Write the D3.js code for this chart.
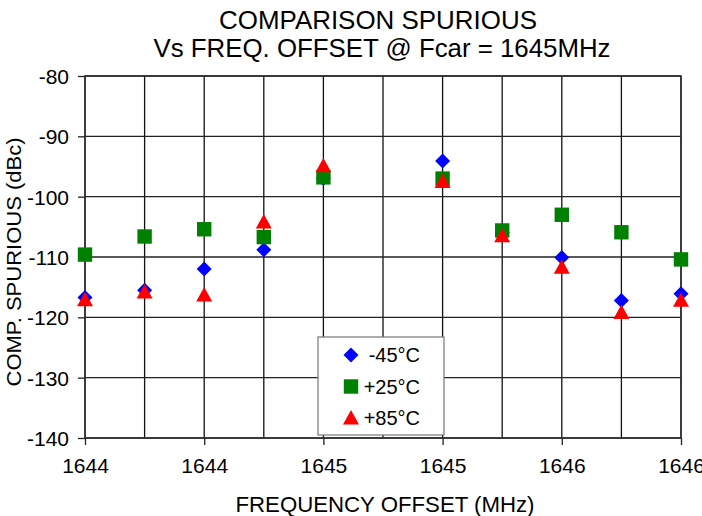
<!DOCTYPE html>
<html>
<head>
<meta charset="utf-8">
<script src="https://cdn.jsdelivr.net/npm/d3@7"></script>
<style>
  body { margin: 0; background: #fff; }
  text { font-family: "Liberation Sans", Arial, sans-serif; fill: #000; }
</style>
</head>
<body>
<div id="chart"></div>
<script>
// frequency points (MHz), the carrier itself is not measured
var freqs = [1644.0, 1644.2, 1644.4, 1644.6, 1644.8, 1645.2, 1645.4, 1645.6, 1645.8, 1646.0];
var minus45 = [-116.7, -115.5, -112.0, -108.8, -97.0, -94.1, -106.0, -110.1, -117.2, -116.1];
var plus25 = [-109.6, -106.6, -105.4, -106.7, -96.8, -97.0, -105.6, -103.0, -105.9, -110.4];
var plus85 = [-117.1, -115.8, -116.3, -104.2, -94.9, -97.5, -106.5, -111.7, -119.2, -117.2];
var xTicks = [1644.0, 1644.4, 1644.8, 1645.2, 1645.6, 1646.0];
var xGrid = [1644.0, 1644.2, 1644.4, 1644.6, 1644.8, 1645.0, 1645.2, 1645.4, 1645.6, 1645.8, 1646.0];
var yTicks = [-140, -130, -120, -110, -100, -90, -80];
var seriesNames = ['-45°C', '+25°C', '+85°C'];

var W = 702, H = 516;
var pL = 85, pR = 681, pT = 76, pB = 438;

var svg = d3.select('#chart').append('svg')
    .attr('width', W).attr('height', H);

var x = d3.scaleLinear().domain([1644, 1646]).range([pL, pR]);
var y = d3.scaleLinear().domain([-140, -80]).range([pB, pT]);

// title
svg.append('text').attr('x', 378).attr('y', 29).attr('text-anchor', 'middle')
    .style('font-size', '25px')
    .attr('textLength', 318).attr('lengthAdjust', 'spacingAndGlyphs')
    .text('COMPARISON SPURIOUS');
svg.append('text').attr('x', 382).attr('y', 57).attr('text-anchor', 'middle')
    .style('font-size', '25px')
    .attr('textLength', 457).attr('lengthAdjust', 'spacingAndGlyphs')
    .text('Vs FREQ. OFFSET @ Fcar = 1645MHz');

// grid
svg.append('g').selectAll('line').data(xGrid).join('line')
    .attr('x1', d => x(d)).attr('x2', d => x(d))
    .attr('y1', pT).attr('y2', pB)
    .attr('stroke', '#111').attr('stroke-width', 1.3);
svg.append('g').selectAll('line').data(yTicks).join('line')
    .attr('x1', pL).attr('x2', pR)
    .attr('y1', d => y(d)).attr('y2', d => y(d))
    .attr('stroke', '#222').attr('stroke-width', 1.3);
svg.append('rect').attr('x', pL).attr('y', pT)
    .attr('width', pR - pL).attr('height', pB - pT)
    .attr('fill', 'none').attr('stroke', '#333').attr('stroke-width', 1.6);

// axes
var yAxis = svg.append('g').attr('transform', `translate(${pL},0)`)
    .call(d3.axisLeft(y).tickValues(yTicks).tickSize(7).tickPadding(9).tickFormat(d => String(d)));
var xAxis = svg.append('g').attr('transform', `translate(0,${pB})`)
    .call(d3.axisBottom(x).tickValues(xTicks).tickSize(7).tickPadding(13).tickFormat(d => String(Math.round(d))));
[yAxis, xAxis].forEach(a => {
    a.select('.domain').remove();
    a.selectAll('line').attr('stroke', '#222').attr('stroke-width', 1.3);
    a.selectAll('text').style('font-size', '21px').style('font-family', '"Liberation Sans", Arial, sans-serif');
});
yAxis.selectAll('text').attr('dy', '0.35em');

svg.append('text').attr('x', 385).attr('y', 512).attr('text-anchor', 'middle')
    .style('font-size', '22px')
    .attr('textLength', 299).attr('lengthAdjust', 'spacingAndGlyphs')
    .text('FREQUENCY OFFSET (MHz)');
svg.append('text').attr('transform', 'translate(21,262) rotate(-90)')
    .attr('text-anchor', 'middle').style('font-size', '21px')
    .attr('textLength', 249).attr('lengthAdjust', 'spacingAndGlyphs')
    .text('COMP. SPURIOUS (dBc)');

// markers
function diamond(cx, cy, r) {
    return `M${cx},${cy - r}L${cx + r},${cy}L${cx},${cy + r}L${cx - r},${cy}Z`;
}
function square(cx, cy, r) {
    return `M${cx - r},${cy - r}H${cx + r}V${cy + r}H${cx - r}Z`;
}
function triangle(cx, cy, r) {
    return `M${cx},${cy - r}L${cx + r},${cy + r * 0.8}L${cx - r},${cy + r * 0.8}Z`;
}
var series = [
    { vals: minus45, color: '#0000ff', shape: diamond, r: 7.5 },
    { vals: plus25, color: '#008000', shape: square, r: 7.2 },
    { vals: plus85, color: '#ff0000', shape: triangle, r: 8 }
];
series.forEach(s => {
    svg.append('g').selectAll('path').data(s.vals).join('path')
        .attr('d', (d, i) => s.shape(x(freqs[i]), y(d), s.r))
        .attr('fill', s.color);
});

// legend
var lg = svg.append('g');
lg.append('rect').attr('x', 318).attr('y', 337).attr('width', 126).attr('height', 98)
    .attr('fill', '#fff').attr('stroke', '#777').attr('stroke-width', 1.2);
series.forEach((s, i) => {
    var cy = 355 + i * 31.5;
    lg.append('path').attr('d', s.shape(351, cy, s.r)).attr('fill', s.color);
    lg.append('text').attr('x', 420).attr('y', cy).attr('dy', '0.35em')
        .attr('text-anchor', 'end').style('font-size', '20px')
        .text(seriesNames[i]);
});
</script>
</body>
</html>
